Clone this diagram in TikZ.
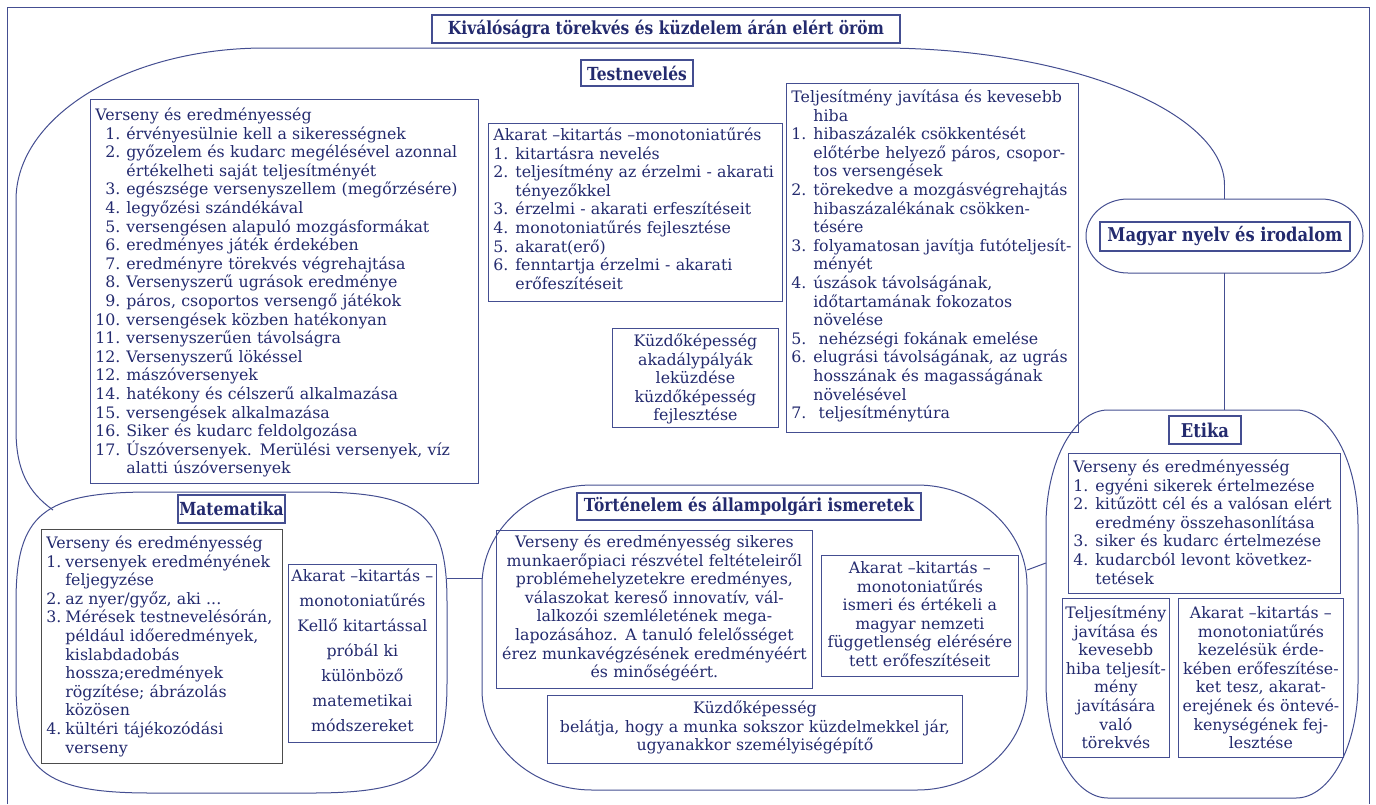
\documentclass[tikz,border=0pt]{standalone}
\usepackage{fontspec}
\setmainfont{DejaVu Serif}
\newfontfamily\headfont[FakeStretch=0.86]{DejaVu Serif}
\definecolor{inkblue}{RGB}{35,42,110}
\definecolor{lineblue}{RGB}{68,78,145}
\newlength\numw
\newcommand{\nr}[1]{\makebox[\numw][l]{#1}}
\newcommand{\nrr}[1]{\makebox[\numw][r]{#1\hspace{6pt}}}
\newcommand{\ind}{\hspace*{\numw}}
\newcommand{\bodyfont}{\fontsize{15.8}{18.6}\selectfont}
% rounded outline: name, x1, y1, x2, y2, rx, ry, control factor
\newcommand{\blob}[8]{%
  \draw[blobline] (#2,#3+#7) .. controls (#2,#3+#8*#7) and (#2+#8*#6,#3) .. (#2+#6,#3)
    -- (#4-#6,#3) .. controls (#4-#8*#6,#3) and (#4,#3+#8*#7) .. (#4,#3+#7)
    -- (#4,#5-#7) .. controls (#4,#5-#8*#7) and (#4-#8*#6,#5) .. (#4-#6,#5)
    -- (#2+#6,#5) .. controls (#2+#8*#6,#5) and (#2,#5-#8*#7) .. (#2,#5-#7) -- cycle;
  \node[inner sep=0pt, minimum width={(#4-#2)*1pt}, minimum height={(#5-#3)*1pt}] (#1) at ({(#2+#4)/2},{(#3+#5)/2}) {};
}
\tikzset{
  blobline/.style={draw=lineblue, line width=1pt},
  headbox/.style={draw=lineblue, line width=1.2pt, inner sep=0pt, text=inkblue, font=\headfont\bfseries\fontsize{18}{20}\selectfont},
  bighead/.style={headbox, font=\headfont\bfseries\fontsize{19}{21}\selectfont},
  listbox/.style={draw=lineblue, line width=0.8pt, anchor=north west, align=left, inner xsep=5pt, inner ysep=0pt, text=inkblue, font=\bodyfont},
  midbox/.style={listbox, align=center},
}
\begin{document}
\begin{tikzpicture}[x=1pt,y=-1pt]
\useasboundingbox (0,0) rectangle (1376,804);
% frame
\draw[blobline] (7,804) -- (7,7) -- (1369,7) -- (1369,804);
\node[headbox, minimum width=468pt, minimum height=28pt] (title) at (666,29) {Kiválóságra törekvés és küzdelem árán elért öröm};

% Testnevelés
\draw[blobline] (53,510) .. controls (28,492) and (16,470) .. (16,430) -- (16,200)
  .. controls (16,116) and (128,48) .. (265,48) -- (880,48)
  .. controls (1070,48) and (1224.5,112) .. (1224.5,185) coordinate (tnEnd);
\node[headbox, minimum width=112pt, minimum height=26pt] (tnTitle) at (637,73) {Testnevelés};
\node[listbox, text width=378pt, text height=21pt, text depth=363pt] (tnVerseny) at (90,99) {\setlength\numw{31pt}%
Verseny és eredményesség\\
\nrr{1.}érvényesülnie kell a sikerességnek\\
\nrr{2.}győzelem és kudarc megélésével azonnal\\
\ind értékelheti saját teljesítményét\\
\nrr{3.}egészsége versenyszellem (megőrzésére)\\
\nrr{4.}legyőzési szándékával\\
\nrr{5.}versengésen alapuló mozgásformákat\\
\nrr{6.}eredményes játék érdekében\\
\nrr{7.}eredményre törekvés végrehajtása\\
\nrr{8.}Versenyszerű ugrások eredménye\\
\nrr{9.}páros, csoportos versengő játékok\\
\nrr{10.}versengések közben hatékonyan\\
\nrr{11.}versenyszerűen távolságra\\
\nrr{12.}Versenyszerű lökéssel\\
\nrr{12.}mászóversenyek\\
\nrr{14.}hatékony és célszerű alkalmazása\\
\nrr{15.}versengések alkalmazása\\
\nrr{16.}Siker és kudarc feldolgozása\\
\nrr{17.}Úszóversenyek. Merülési versenyek, víz\\
\ind alatti úszóversenyek};
\node[listbox, text width=284pt, text height=17pt, text depth=161pt] (tnAkarat) at (488,123) {\setlength\numw{22pt}%
Akarat –kitartás –monotoniatűrés\\
\nr{1.}kitartásra nevelés\\
\nr{2.}teljesítmény az érzelmi - akarati\\
\ind tényezőkkel\\
\nr{3.}érzelmi - akarati erfeszítéseit\\
\nr{4.}monotoniatűrés fejlesztése\\
\nr{5.}akarat(erő)\\
\nr{6.}fenntartja érzelmi - akarati\\
\ind erőfeszítéseit};
\node[midbox, text width=156pt, text height=18pt, text depth=81pt] (tnKuzd) at (612,328) {Küzdőképesség\\akadálypályák\\leküzdése\\küzdőképesség\\fejlesztése};
\node[listbox, text width=282pt, text height=19pt, text depth=330pt] (tnTelj) at (786,83) {\setlength\numw{22pt}%
Teljesítmény javítása és kevesebb\\
\ind hiba\\
\nr{1.}hibaszázalék csökkentését\\
\ind előtérbe helyező páros, csopor-\\
\ind tos versengések\\
\nr{2.}törekedve a mozgásvégrehajtás\\
\ind hibaszázalékának csökken-\\
\ind tésére\\
\nr{3.}folyamatosan javítja futóteljesít-\\
\ind ményét\\
\nr{4.}úszások távolságának,\\
\ind időtartamának fokozatos\\
\ind növelése\\
\nr{5.}\ nehézségi fokának emelése\\
\nr{6.}elugrási távolságának, az ugrás\\
\ind hosszának és magasságának\\
\ind növelésével\\
\nr{7.}\ teljesítménytúra};

% Magyar nyelv és irodalom
\blob{mnShape}{1086}{199}{1363}{273}{42}{37}{0.45}
\node[bighead, minimum width=250pt, minimum height=29pt] (mnTitle) at (1225,236.5) {Magyar nyelv és irodalom};
\draw[blobline] (tnEnd) -- (mnShape.north);

% Etika
\blob{etShape}{1046}{410}{1358}{798}{62}{115}{0.45}
\draw[blobline] (mnShape.south) -- (mnShape.south |- etShape.north);
\node[bighead, minimum width=72pt, minimum height=28pt] (etTitle) at (1205,430) {Etika};
\node[listbox, text width=262pt, text height=19pt, text depth=121pt] (etVerseny) at (1068,453) {\setlength\numw{22pt}%
Verseny és eredményesség\\
\nr{1.}egyéni sikerek értelmezése\\
\nr{2.}kitűzött cél és a valósan elért\\
\ind eredmény összehasonlítása\\
\nr{3.}siker és kudarc értelmezése\\
\nr{4.}kudarcból levont következ-\\
\ind tetések};
\node[midbox, inner xsep=2pt, text width=103pt, text height=20pt, text depth=139pt] (etTelj) at (1062,598) {Teljesítmény\\javítása és\\kevesebb\\hiba teljesít-\\mény\\javítására\\való\\törekvés};
\node[midbox, inner xsep=2pt, text width=161pt, text height=20pt, text depth=139pt] (etAkarat) at (1178,598) {Akarat –kitartás –\\monotoniatűrés\\kezelésük érde-\\kében erőfeszítése-\\ket tesz, akarat-\\erejének és öntevé-\\kenységének fej-\\lesztése};

% Matematika
\blob{maShape}{16}{492}{447}{793}{135}{110}{0.2}
\node[headbox, minimum width=107pt, minimum height=28pt] (maTitle) at (231.5,509) {Matematika};
\node[listbox, draw=black!70, text width=231pt, text height=19pt, text depth=215pt] (maVerseny) at (41,529) {\setlength\numw{19pt}%
Verseny és eredményesség\\
\nr{1.}versenyek eredményének\\
\ind feljegyzése\\
\nr{2.}az nyer/győz, aki ...\\
\nr{3.}Mérések testnevelésórán,\\
\ind például időeredmények,\\
\ind kislabdadobás\\
\ind hossza;eredmények\\
\ind rögzítése; ábrázolás\\
\ind közösen\\
\nr{4.}kültéri tájékozódási\\
\ind verseny};
\node[midbox, inner xsep=1pt, font=\fontsize{15.8}{25}\selectfont, text width=146pt, text height=17pt, text depth=161pt] (maAkarat) at (288,564) {Akarat –kitartás –\\monotoniatűrés\\Kellő kitartással\\próbál ki\\különböző\\matemetikai\\módszereket};

% Történelem és állampolgári ismeretek
\blob{toShape}{482}{485}{1027}{790}{110}{100}{0.45}
\node[headbox, minimum width=344pt, minimum height=27pt] (toTitle) at (749,506.5) {Történelem és állampolgári ismeretek};
\node[midbox, text width=306pt, text height=17pt, text depth=141pt] (toVerseny) at (496,530) {Verseny és eredményesség sikeres\\munkaerőpiaci részvétel feltételeiről\\problémehelyzetekre eredményes,\\válaszokat kereső innovatív, vál-\\lalkozói szemléletének mega-\\lapozásához. A tanuló felelősséget\\érez munkavégzésének eredményéért\\és minőségéért.};
\node[midbox, text width=405pt, text height=18pt, text depth=50pt] (toKuzd) at (547,695) {Küzdőképesség\\belátja, hogy a munka sokszor küzdelmekkel jár,\\ugyanakkor személyiségépítő};
\node[midbox, text width=187pt, text height=18pt, text depth=103pt] (toAkarat) at (821,555) {Akarat –kitartás –\\monotoniatűrés\\ismeri és értékeli a\\magyar nemzeti\\függetlenség elérésére\\tett erőfeszítéseit};

% connectors between the subjects
\draw[blobline] ([yshift=64.5pt]maShape.east) -- ([yshift=59.5pt]toShape.west);
\draw[blobline] ([yshift=67.5pt]toShape.east) -- ([yshift=41pt]etShape.west);
\end{tikzpicture}
\end{document}
